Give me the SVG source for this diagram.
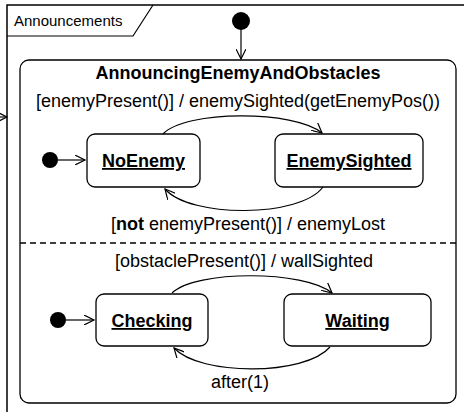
<svg xmlns="http://www.w3.org/2000/svg" width="464" height="412" viewBox="0 0 464 412">
<style>
.t{font-family:"Liberation Sans",Arial,sans-serif;fill:#000;font-size:18px}
.b{font-weight:bold;text-decoration:underline}
.st{fill:#fff;stroke:#000;stroke-width:1.3}
.c{fill:none;stroke:#000;stroke-width:1.2}
</style>
<defs>
<marker id="a" markerWidth="12" markerHeight="10" refX="10" refY="5" orient="auto" markerUnits="userSpaceOnUse">
<path d="M0,0 L10,5 L0,10" fill="none" stroke="#000" stroke-width="1.2"/>
</marker>
</defs>
<rect width="464" height="412" fill="#fff"/>
<g id="frame">
<path d="M7,415 V5 H466" fill="none" stroke="#000" stroke-width="1.5"/>
<path d="M7,36 H133 L153,5" fill="none" stroke="#000" stroke-width="1.2"/>
<text class="t" x="14" y="26" style="font-size:15px">Announcements</text>
</g>
<g id="composite">
<rect x="20" y="60" width="436" height="343" rx="9" class="st"/>
<text class="t" x="238" y="79" font-weight="bold" text-anchor="middle">AnnouncingEnemyAndObstacles</text>
<line x1="20" y1="243" x2="456" y2="243" stroke="#000" stroke-width="1.5" stroke-dasharray="6,4"/>
</g>
<g id="init-top"><circle cx="241" cy="21" r="9" fill="#000"/></g>
<g id="init1"><circle cx="50" cy="160" r="8" fill="#000"/></g>
<g id="init2"><circle cx="58" cy="320" r="8" fill="#000"/></g>
<g id="NoEnemy">
<rect x="87" y="134" width="113" height="53" rx="8" class="st"/>
<text class="t b" x="143.5" y="167" text-anchor="middle">NoEnemy</text>
</g>
<g id="EnemySighted">
<rect x="275" y="134" width="148" height="53" rx="8" class="st"/>
<text class="t b" x="349" y="167" text-anchor="middle">EnemySighted</text>
</g>
<g id="Checking">
<rect x="96" y="294" width="112" height="52" rx="8" class="st"/>
<text class="t b" x="152" y="327" text-anchor="middle">Checking</text>
</g>
<g id="Waiting">
<rect x="284" y="294" width="147" height="52" rx="8" class="st"/>
<text class="t b" x="357.5" y="327" text-anchor="middle">Waiting</text>
</g>
<g id="connectors">
<path d="M-2,117 H7" class="c" marker-end="url(#a)"/>
<path d="M241,28 V59" class="c" marker-end="url(#a)"/>
<path d="M57,160 H85" class="c" marker-end="url(#a)"/>
<path d="M65,320 H94" class="c" marker-end="url(#a)"/>
<path d="M163,134 C185,110 295,110 322,133" class="c" marker-end="url(#a)"/>
<path d="M323,187 C300,218 190,218 165,189" class="c" marker-end="url(#a)"/>
<path d="M172,293 C195,270 305,270 332,293" class="c" marker-end="url(#a)"/>
<path d="M330,347 C305,376 200,376 174,348" class="c" marker-end="url(#a)"/>
<text class="t" x="238" y="107" text-anchor="middle">[enemyPresent()] / enemySighted(getEnemyPos())</text>
<text class="t" x="248" y="230" text-anchor="middle">[<tspan font-weight="bold">not</tspan> enemyPresent()] / enemyLost</text>
<text class="t" x="244" y="267" text-anchor="middle">[obstaclePresent()] / wallSighted</text>
<text class="t" x="240" y="388" text-anchor="middle">after(1)</text>
</g>
</svg>
